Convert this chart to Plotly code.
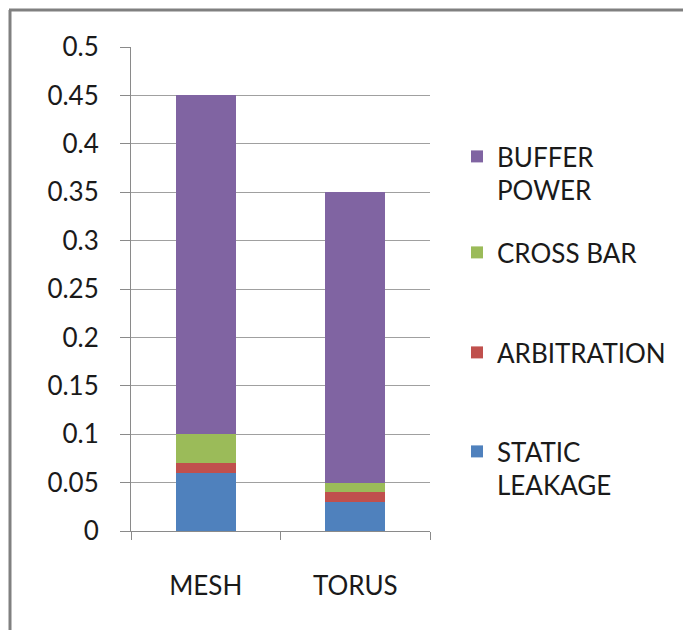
import plotly.graph_objects as go

categories = ["MESH", "TORUS"]
static_leakage = [0.06, 0.03]
arbitration = [0.01, 0.01]
cross_bar = [0.03, 0.01]
buffer_power = [0.35, 0.30]
y_ticks = [0, 0.05, 0.1, 0.15, 0.2, 0.25, 0.3, 0.35, 0.4, 0.45, 0.5]

W, H = 691, 630
OFF = 8  # page body margin
L, R, T, B = 131, 430, 47, 531  # plot area pixel box in the reference


def px_x(px):
    return (px - L) / (R - L)


def px_y(py):
    return (B - py) / (B - T)


FONT = "Lato, 'Open Sans', sans-serif"
FS = 26
series = [
    ("STATIC<br>LEAKAGE", static_leakage, "#4F81BD", "legend4"),
    ("ARBITRATION", arbitration, "#C0504D", "legend3"),
    ("CROSS BAR", cross_bar, "#9BBB59", "legend2"),
    ("BUFFER<br>POWER", buffer_power, "#8064A2", "legend"),
]

fig = go.Figure()
for name, vals, color, leg in series:
    fig.add_trace(go.Bar(x=categories, y=vals, name=name, marker_color=color,
                         marker_line_width=0, legend=leg))

legend_common = dict(font=dict(family=FONT, size=FS, color="#1a1a1a"),
                     bgcolor="rgba(0,0,0,0)", valign="top",
                     xanchor="left", yanchor="top", x=px_x(457))
legend_tops = {"legend": 133, "legend2": 229, "legend3": 329, "legend4": 428}

fig.update_layout(
    width=W, height=H,
    margin=dict(l=L - OFF, r=W - (R - OFF), t=T - OFF, b=H - (B - OFF), pad=0),
    paper_bgcolor="white", plot_bgcolor="white",
    barmode="stack", bargap=0.6,
    font=dict(family=FONT, size=FS, color="#1a1a1a"),
    showlegend=True,
    **{k: dict(legend_common, y=px_y(v)) for k, v in legend_tops.items()},
    xaxis=dict(type="category", showline=True, linecolor="#8a8a8a", linewidth=1,
               ticks="outside", tickson="boundaries", ticklen=8, tickcolor="#8a8a8a",
               showgrid=False, ticklabelstandoff=32,
               tickfont=dict(family=FONT, size=FS, color="#1a1a1a")),
    yaxis=dict(range=[0, 0.5], tickvals=y_ticks, showline=True, linecolor="#8a8a8a",
               linewidth=1, ticks="outside", ticklen=10, tickcolor="#8a8a8a",
               showgrid=True, gridcolor="#a0a0a0", gridwidth=1, zeroline=False,
               ticklabelstandoff=16,
               tickfont=dict(family=FONT, size=FS, color="#1a1a1a")),
    shapes=[
        dict(type="line", xref="paper", yref="paper", x0=px_x(10), x1=px_x(10),
             y0=px_y(640), y1=px_y(10), line=dict(color="#808080", width=3)),
        dict(type="line", xref="paper", yref="paper", x0=px_x(9), x1=px_x(700),
             y0=px_y(10), y1=px_y(10), line=dict(color="#808080", width=3)),
    ],
)

fig.write_html("out.html")
